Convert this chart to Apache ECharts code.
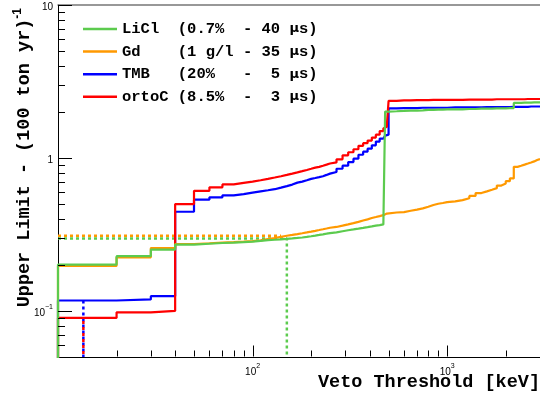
<!DOCTYPE html>
<html><head><meta charset="utf-8">
<script src="https://cdn.jsdelivr.net/npm/echarts@6/dist/echarts.min.js"></script>
<style>html,body{margin:0;padding:0;background:#fff}#c{width:540px;height:399px}</style>
</head><body><div id="c"></div>
<script>
// Bin edges (keV); first edge is the empty region below the plotted range
const edges = [5,
  10,20,30,40,50,60,70,80,90,100,110,120,130,140,150,160,170,180,190,200,210,220,230,240,250,
  270,290,310,330,350,370,390,410,430,450,470,480,490,
  500,550,600,650,700,750,800,850,900,950,
  1000,1100,1200,1300,1400,1500,1600,1700,1800,1900,2000,2100,2200,2300,2400,2500,2600,2700,2800,2900,
  3000];

const ortoC = [0.001,
  0.090,0.098,0.100,0.50,0.61,0.643,0.672,0.687,0.70,0.715,0.73,0.745,0.76,0.775,0.79,0.805,0.82,0.835,0.85,0.865,0.875,0.89,0.905,0.92,0.935,
  0.98,1.04,1.09,1.14,1.20,1.25,1.30,1.36,1.42,1.50,1.56,1.60,1.65,
  2.36,2.38,2.38,2.39,2.39,2.39,2.40,2.40,2.40,2.40,
  2.40,2.40,2.41,2.41,2.41,2.41,2.41,2.42,2.42,2.42,2.42,2.42,2.42,2.42,2.42,2.43,2.43,2.43,2.43,2.43];
const TMB = [0.001,
  0.117,0.119,0.125,0.445,0.534,0.553,0.57,0.58,0.593,0.605,0.615,0.625,0.64,0.655,0.67,0.69,0.70,0.715,0.73,0.74,0.75,0.76,0.775,0.79,0.81,
  0.85,0.89,0.94,0.99,1.05,1.10,1.15,1.21,1.28,1.34,1.38,1.40,1.42,
  2.11,2.12,2.12,2.12,2.13,2.13,2.13,2.13,2.13,2.13,
  2.14,2.14,2.14,2.14,2.14,2.15,2.15,2.15,2.15,2.15,2.15,2.16,2.16,2.16,2.16,2.16,2.17,2.17,2.17,2.17];
const LiCl = [0.001,
  0.201,0.228,0.252,0.271,0.275,0.278,0.280,0.282,0.284,0.287,0.290,0.292,0.294,0.296,0.298,0.300,0.302,0.305,0.308,0.311,0.314,0.317,0.320,0.323,0.326,
  0.332,0.337,0.341,0.345,0.349,0.353,0.357,0.361,0.364,0.368,0.372,2.01,2.01,
  2.02,2.03,2.04,2.04,2.05,2.06,2.06,2.07,2.07,2.08,
  2.08,2.08,2.09,2.09,2.10,2.10,2.10,2.11,2.11,2.11,2.12,2.12,2.29,2.29,2.30,2.30,2.30,2.31,2.31,2.31];
const Gd = [0.001,
  0.197,0.224,0.258,0.274,0.277,0.280,0.282,0.284,0.286,0.289,0.295,0.300,0.305,0.310,0.314,0.318,0.322,0.326,0.330,0.334,0.338,0.342,0.346,0.350,0.354,
  0.361,0.368,0.375,0.382,0.390,0.397,0.405,0.411,0.417,0.423,0.430,0.433,0.436,
  0.440,0.443,0.452,0.460,0.468,0.480,0.493,0.502,0.508,0.514,
  0.520,0.530,0.545,0.565,0.590,0.605,0.620,0.635,0.660,0.680,0.705,0.735,0.875,0.890,0.905,0.920,0.935,0.950,0.970,0.985];

// Threshold markers: [energy keV, limit]
const gdCut = [140, 0.31];
const liclCut = [150, 0.298];
const tmbCut = [13.5, 0.117];
const ortoCut = [13.5, 0.09];

const legendNames = ['LiCl','Gd','TMB','ortoC'];
const legendLabels = {
  LiCl: 'LiCl  (0.7%  - 40 {mu|\u03bc}s)',
  Gd:   'Gd    (1 g/l - 35 {mu|\u03bc}s)',
  TMB:  'TMB   (20%   -  5 {mu|\u03bc}s)',
  ortoC:'ortoC (8.5%  -  3 {mu|\u03bc}s)'
};

const xMin = 10, xMax = 3000, yMin = 0.05, yMax = 10;
const xMinorTicks = [20,30,40,50,60,70,80,90,200,300,400,500,600,700,800,900,2000];
const xMajorTicks = [100,1000];
const yMinorTicks = [0.06,0.07,0.08,0.09,0.2,0.3,0.4,0.5,0.6,0.7,0.8,0.9,2,3,4,5,6,7,8,9];
const yMajorTicks = [0.1,1,10];

const colors = {LiCl:'#5ccb4e', Gd:'#ff9900', TMB:'#0000ff', ortoC:'#ff0000'};
const GRID = {left:58, top:5, right:-2, bottom:42};

function hist(vals){ return edges.map((e,i)=>[e, vals[Math.min(i, vals.length-1)]]); }
function stepSeries(name, vals){
  return {name, type:'line', step:'end', data:hist(vals), symbol:'none', silent:true,
    lineStyle:{color:colors[name], width:2.2}, itemStyle:{color:colors[name]}, animation:false};
}
function dotted(color, data, offset){
  return {type:'line', data, symbol:'none', silent:true, animation:false,
    lineStyle:{color, width:2.5, type:[3,3], dashOffset:offset||0}};
}
function expLabel(v){
  const e = Math.round(Math.log10(v));
  if (e === 0) return '{b|1}';
  if (e === 1) return '{b|10}';
  return '{b|10}{sup|' + (e < 0 ? '\u2212' + (-e) : e) + '}';
}
const labRich = {
  b:{fontSize:10, fontFamily:'Liberation Sans', color:'#000', lineHeight:14, verticalAlign:'bottom'},
  sup:{fontSize:7, fontFamily:'Liberation Sans', color:'#000', lineHeight:14, verticalAlign:'top'}
};

const chart = echarts.init(document.getElementById('c'), null, {renderer:'canvas'});
const logX = {type:'log', logBase:10, min:xMin, max:xMax, gridIndex:0, splitLine:{show:false}};
const logY = {type:'log', logBase:10, min:yMin, max:yMax, gridIndex:0, splitLine:{show:false}};
const titles = [
  {type:'text', x:540, y:382, silent:true,
    style:{text:'Veto Threshold [keV]', fontFamily:'Liberation Mono', fontWeight:'bold', fontSize:18.5,
      fill:'#000', align:'right', verticalAlign:'middle', textAlign:'right', textVerticalAlign:'middle'}},
  {type:'text', x:23, y:8, rotation:Math.PI/2, silent:true,
    style:{text:'{m|Upper Limit - (100 ton yr)}{s|-1}', fill:'#000', align:'right', verticalAlign:'middle',
      textAlign:'right', textVerticalAlign:'middle',
      rich:{m:{fontFamily:'Liberation Mono', fontWeight:'bold', fontSize:18.5, lineHeight:22, verticalAlign:'bottom', fill:'#000'},
            s:{fontFamily:'Liberation Sans', fontWeight:'bold', fontSize:12, lineHeight:22, verticalAlign:'top', fill:'#000'}}}}
];
const baseSeries = [
  dotted(colors.Gd, [[xMin, gdCut[1]], [gdCut[0], gdCut[1]]]),
  dotted(colors.LiCl, [[xMin, liclCut[1]], [liclCut[0], liclCut[1]], [liclCut[0], yMin]]),
  dotted(colors.TMB, [[tmbCut[0], tmbCut[1]], [tmbCut[0], yMin]]),
  dotted(colors.ortoC, [[ortoCut[0], ortoCut[1]], [ortoCut[0], yMin]], 3),
  stepSeries('TMB', TMB),
  stepSeries('ortoC', ortoC),
  stepSeries('Gd', Gd),
  stepSeries('LiCl', LiCl)
];
chart.setOption({
  backgroundColor:'#fff',
  animation:false,
  grid:Object.assign({containLabel:false}, GRID),
  legend:{
    data:legendNames, orient:'vertical', left:83, top:21, padding:0, itemWidth:34, itemHeight:2.5, itemGap:6.6,
    icon:'rect', selectedMode:false,
    formatter:n=>legendLabels[n],
    textStyle:{fontFamily:'Liberation Mono', fontWeight:'bold', fontSize:15.5, color:'#000', lineHeight:16,
      rich:{mu:{fontFamily:'DejaVu Sans', fontWeight:'bold', fontSize:13, color:'#000'}}}
  },
  xAxis:[
    Object.assign({}, logX, {position:'bottom', axisLine:{lineStyle:{color:'#000', width:1}},
      axisTick:{show:false}, axisLabel:{show:true, margin:6, customValues:xMajorTicks, formatter:expLabel, rich:labRich}}),
    Object.assign({}, logX, {position:'top', axisLine:{lineStyle:{color:'#777', width:1.5}},
      axisTick:{show:false}, axisLabel:{show:false}})
  ],
  yAxis:[
    Object.assign({}, logY, {position:'left', axisLine:{lineStyle:{color:'#000', width:1}},
      axisTick:{show:false}, axisLabel:{show:true, margin:5, customValues:yMajorTicks, formatter:expLabel, rich:labRich}})
  ],
  series:baseSeries
});

// Tick marks: positions come from the axes' own scales; drawn on a top layer
const H = chart.getHeight(), W = chart.getWidth();
const gridBottomPx = H - GRID.bottom, gridLeftPx = GRID.left;
const plotH = H - GRID.top - GRID.bottom, plotW = W - GRID.left - GRID.right;
function yPix(v){
  let c = chart.convertToPixel({yAxisIndex:0}, v);
  if (Array.isArray(c)) c = c[1];
  if (c == null || !isFinite(c)) c = gridBottomPx - plotH * Math.log(v / yMin) / Math.log(yMax / yMin);
  return c;
}
function xPix(v){
  let c = chart.convertToPixel({xAxisIndex:0}, v);
  if (Array.isArray(c)) c = c[0];
  if (c == null || !isFinite(c)) c = gridLeftPx + plotW * Math.log(v / xMin) / Math.log(xMax / xMin);
  return c;
}
const tickEls = [];
function addXTicks(values, len){
  values.forEach(v => {
    const x = Math.round(xPix(v)) + 0.5, y = gridBottomPx - 0.5;
    tickEls.push({type:'line', silent:true, zlevel:1, z:100, shape:{x1:x, y1:y, x2:x, y2:y - len}, style:{stroke:'#000', lineWidth:1}});
  });
}
function addYTicks(values, len){
  values.forEach(v => {
    const y = Math.round(yPix(v)) + 0.5, x = gridLeftPx;
    tickEls.push({type:'line', silent:true, zlevel:1, z:100, shape:{x1:x, y1:y, x2:x + len, y2:y}, style:{stroke:'#000', lineWidth:1}});
  });
}
addXTicks(xMinorTicks, 6);
addXTicks(xMajorTicks, 11);
addYTicks(yMinorTicks, 7);
addYTicks(yMajorTicks, 14);
chart.setOption({graphic: titles.concat(tickEls)});
</script></body></html>
